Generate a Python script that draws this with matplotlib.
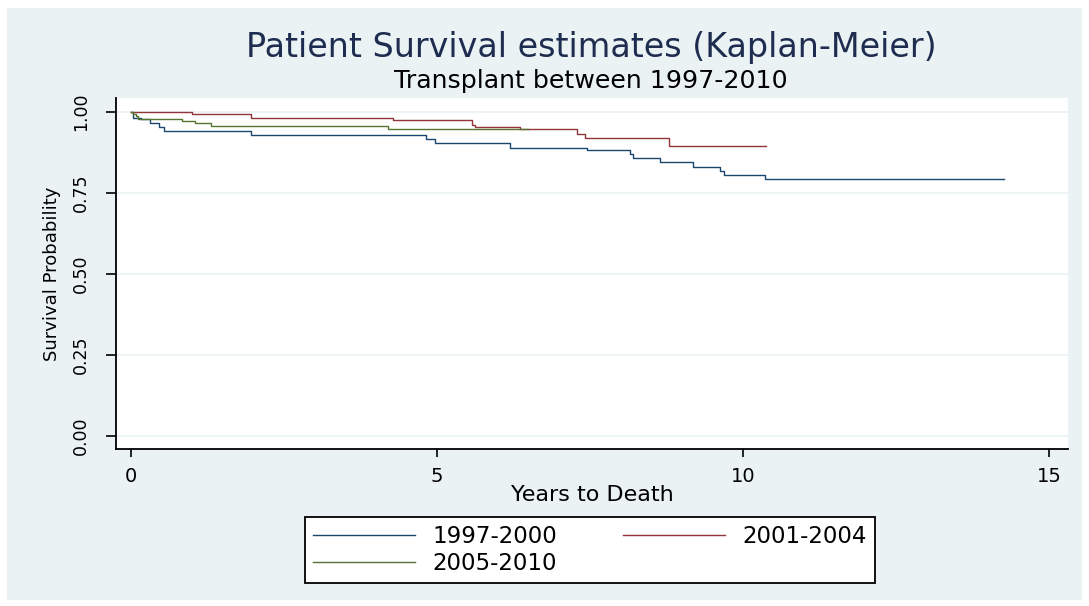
import matplotlib
matplotlib.use("Agg")
import matplotlib.pyplot as plt
from matplotlib.patches import Rectangle

plt.rcParams['font.family'] = ['DejaVu Sans']

# Kaplan-Meier step data (time in years, survival probability)
blue_times = [0, 0.03, 0.16, 0.31, 0.45, 0.54, 1.96, 4.82, 4.97, 6.20, 7.45,
              8.15, 8.21, 8.65, 9.19, 9.63, 9.69, 10.36, 14.27]
blue_surv = [1.0, 0.981, 0.977, 0.964, 0.953, 0.940, 0.928, 0.915, 0.902, 0.889,
             0.882, 0.868, 0.856, 0.843, 0.830, 0.817, 0.804, 0.792, 0.792]

red_times = [0, 1.00, 1.96, 4.28, 5.57, 5.62, 6.36, 7.29, 7.42, 8.79, 10.37]
red_surv = [1.0, 0.992, 0.981, 0.974, 0.958, 0.952, 0.945, 0.932, 0.919, 0.894, 0.894]

green_times = [0, 0.03, 0.08, 0.12, 0.83, 1.05, 1.31, 4.20, 6.49]
green_surv = [1.0, 0.993, 0.986, 0.977, 0.971, 0.966, 0.956, 0.945, 0.945]

series_labels = ["1997-2000", "2001-2004", "2005-2010"]
colors = ["#1a476f", "#90353b", "#55752f"]

xticks = [0, 5, 10, 15]
yticks = [0.00, 0.25, 0.50, 0.75, 1.00]
ytick_labels = ["0.00", "0.25", "0.50", "0.75", "1.00"]

W, H = 1089, 606
fig = plt.figure(figsize=(W / 100, H / 100), dpi=100, facecolor="white")
bg = Rectangle((7 / W, 6 / H), (1082 - 7) / W, (600 - 8) / H, transform=fig.transFigure,
               facecolor="#eaf2f3", edgecolor="none", zorder=-10)
fig.patches.append(bg)

ax = fig.add_axes([116 / W, 1 - 449 / H, (1068 - 116) / W, (449 - 98) / H])
ax.set_zorder(1)
ax.set_facecolor("white")

lines = []
for t, s, c, lab in zip([blue_times, red_times, green_times],
                        [blue_surv, red_surv, green_surv], colors, series_labels):
    ln, = ax.step(t, s, where="post", color=c, lw=1.0, label=lab)
    lines.append(ln)

ax.set_xlim(-0.245, 15.31)
ax.set_ylim(-0.040, 1.0416)
ax.set_xticks(xticks)
ax.set_yticks(yticks)
ax.set_yticklabels(ytick_labels)
for lab in ax.get_yticklabels():
    lab.set_rotation(90)
    lab.set_va("center")

ax.grid(axis="y", color="#eaf2f3", lw=1.2)
ax.set_axisbelow(True)
for sp in ["top", "right"]:
    ax.spines[sp].set_visible(False)
for sp in ["left", "bottom"]:
    ax.spines[sp].set_linewidth(1.3)
    ax.spines[sp].set_color("black")

ax.tick_params(axis="x", length=6, width=1.2, labelsize=14, pad=7)
ax.tick_params(axis="y", length=7.5, width=1.2, labelsize=12.5, pad=11)

ax.set_xlabel("Years to Death", fontsize=16, labelpad=-1)
ax.set_ylabel("Survival Probability", fontsize=13, labelpad=8)

fig.text(591 / W, 1 - 57.5 / H, "Patient Survival estimates (Kaplan-Meier)",
         ha="center", va="baseline", fontsize=24, color="#1e2c50")
fig.text(591 / W, 1 - 88.3 / H, "Transplant between 1997-2010",
         ha="center", va="baseline", fontsize=18.2, color="black")

order = [0, 2, 1]
leg = fig.legend([lines[i] for i in order], [series_labels[i] for i in order],
                 ncol=2, loc="upper center",
                 bbox_to_anchor=(590 / W, 1 - 517 / H), borderaxespad=0,
                 fontsize=16.5, frameon=True, fancybox=False, framealpha=1,
                 edgecolor="black", handlelength=4.45, handletextpad=0.75,
                 columnspacing=2.9, labelspacing=0.2, borderpad=0.33)
leg.get_frame().set_linewidth(1.3)
for l in leg.get_lines():
    l.set_linewidth(1.0)

fig.savefig("out.png", dpi=100, facecolor="white")
